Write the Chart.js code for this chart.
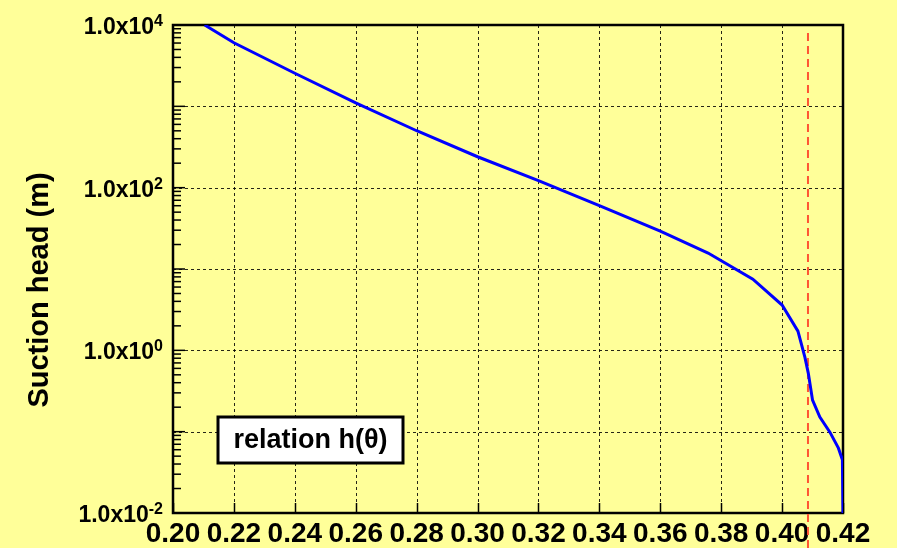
<!DOCTYPE html>
<html lang="en">
<head>
<meta charset="UTF-8">
<title>Suction head</title>
<script src="https://cdn.jsdelivr.net/npm/chart.js"></script>
<style>
  html, body { margin: 0; padding: 0; background: #FFFF99; }
  canvas { display: block; }
</style>
</head>
<body>
<canvas id="myChart" width="897" height="548"></canvas>
<script>
// water content theta vs suction head h
const thetaVals = [0.2104, 0.22, 0.24, 0.26, 0.28, 0.30, 0.32, 0.34, 0.36, 0.3757, 0.3904, 0.4000,
                   0.4052, 0.4075, 0.4086, 0.4100, 0.4124, 0.4157, 0.4185, 0.4198, 0.4200];
const headVals = [10000, 6050, 2550, 1100, 501, 240, 122, 60, 29.2, 15.7, 7.5, 3.6,
                  1.72, 0.82, 0.525, 0.244, 0.151, 0.0986, 0.0627, 0.045, 0.01];

// red dashed vertical line
const dashTheta = [0.4085, 0.4085];
const dashHead = [7950, 0.0037];

// ticks
const xTicks = [0.20, 0.22, 0.24, 0.26, 0.28, 0.30, 0.32, 0.34, 0.36, 0.38, 0.40, 0.42];
const yDecades = [0.01, 0.1, 1, 10, 100, 1000, 10000];
const yLabelExp = ['-2', '0', '2', '4'];
const yLabelVals = [0.01, 1, 100, 10000];

const FONT = '"Liberation Sans", Arial, sans-serif';
const NARROW = '"Liberation Sans Narrow", "Arial Narrow", "Liberation Sans", sans-serif';

// frame, grid, inward ticks, y labels, axis title, label box
const decorPlugin = {
    id: 'decor',
    beforeDatasetsDraw(chart) {
        const ctx = chart.ctx;
        const a = chart.chartArea;
        const xs = chart.scales.x, ys = chart.scales.y;
        ctx.save();
        // dashed grid
        ctx.strokeStyle = 'rgba(0,0,0,0.85)';
        ctx.lineWidth = 1;
        ctx.setLineDash([3, 3]);
        xTicks.forEach(v => {
            const px = Math.round(xs.getPixelForValue(v)) + 0.5;
            ctx.beginPath(); ctx.moveTo(px, a.top); ctx.lineTo(px, a.bottom); ctx.stroke();
        });
        yDecades.forEach(v => {
            const py = Math.round(ys.getPixelForValue(v)) + 0.5;
            ctx.beginPath(); ctx.moveTo(a.left, py); ctx.lineTo(a.right, py); ctx.stroke();
        });
        ctx.setLineDash([]);
        ctx.strokeStyle = '#000';
        // x ticks inward
        ctx.lineWidth = 1.5;
        xTicks.forEach(v => {
            const px = Math.round(xs.getPixelForValue(v)) + 0.5;
            ctx.beginPath(); ctx.moveTo(px, a.bottom); ctx.lineTo(px, a.bottom - 10); ctx.stroke();
        });
        // y minor/major ticks inward
        for (let e = -2; e < 4; e++) {
            for (let m = 1; m < 10; m++) {
                const py = ys.getPixelForValue(m * Math.pow(10, e));
                ctx.beginPath(); ctx.moveTo(a.left, py); ctx.lineTo(a.left + (m === 1 ? 12 : 8), py); ctx.stroke();
            }
        }
        // frame
        ctx.lineWidth = 2.5;
        ctx.strokeRect(a.left, a.top, a.right - a.left, a.bottom - a.top);

        // y labels 1.0x10^n
        ctx.fillStyle = '#000';
        ctx.textBaseline = 'alphabetic';
        yLabelVals.forEach((v, i) => {
            const py = ys.getPixelForValue(v);
            const right = a.left - 10;
            ctx.font = 'bold 16px ' + FONT;
            const ew = ctx.measureText(yLabelExp[i]).width;
            ctx.textAlign = 'left';
            ctx.fillText(yLabelExp[i], right - ew, py + 1);
            ctx.font = 'bold 23px ' + FONT;
            ctx.textAlign = 'right';
            ctx.fillText('1.0x10', right - ew, py + 9);
        });

        // y axis title
        ctx.save();
        ctx.translate(40, 290);
        ctx.rotate(-Math.PI / 2);
        ctx.font = 'bold 29px ' + FONT;
        ctx.textAlign = 'center';
        ctx.textBaseline = 'middle';
        ctx.fillText('Suction head (m)', 0, 0);
        ctx.restore();

        // label box
        const bx = a.left + 45, by = a.top + 392, bw = 185, bh = 46;
        ctx.fillStyle = '#fff';
        ctx.fillRect(bx, by, bw, bh);
        ctx.lineWidth = 3;
        ctx.strokeRect(bx, by, bw, bh);
        ctx.fillStyle = '#000';
        ctx.font = 'bold 27px ' + FONT;
        ctx.textAlign = 'center';
        ctx.textBaseline = 'middle';
        ctx.fillText('relation h(\u03B8)', bx + bw / 2, by + bh / 2 + 1);
        ctx.restore();
    }
};

const curve = thetaVals.map((t, i) => ({ x: t, y: headVals[i] }));
const dashLine = dashTheta.map((t, i) => ({ x: t, y: dashHead[i] }));

new Chart(document.getElementById('myChart'), {
    type: 'scatter',
    data: {
        datasets: [{
            label: 'h(theta)',
            data: curve,
            showLine: true,
            borderColor: '#0000FF',
            borderWidth: 3,
            pointRadius: 0,
            tension: 0,
            order: 1
        }, {
            label: 'limit',
            data: dashLine,
            showLine: true,
            borderColor: '#FF5533',
            borderWidth: 2,
            borderDash: [8, 5],
            pointRadius: 0,
            clip: false,
            order: 2
        }]
    },
    options: {
        responsive: false,
        animation: false,
        devicePixelRatio: 1,
        layout: { padding: { top: 25, right: 54, left: 0, bottom: 0 } },
        plugins: {
            legend: { display: false },
            tooltip: { enabled: false }
        },
        scales: {
            x: {
                type: 'linear',
                min: 0.20,
                max: 0.42,
                afterBuildTicks: s => { s.ticks = xTicks.map(v => ({ value: v })); },
                afterFit: s => { s.height = 35; },
                grid: { display: false, drawTicks: false },
                border: { display: false },
                ticks: {
                    padding: 4,
                    color: '#000',
                    font: { family: NARROW, size: 28, weight: 'bold' },
                    maxRotation: 0,
                    autoSkip: false,
                    callback: v => v.toFixed(2)
                }
            },
            y: {
                type: 'logarithmic',
                min: 0.01,
                max: 10000,
                afterBuildTicks: s => { s.ticks = yDecades.map(v => ({ value: v })); },
                afterFit: s => { s.width = 173; },
                grid: { display: false, drawTicks: false },
                border: { display: false },
                ticks: { display: false }
            }
        }
    },
    plugins: [decorPlugin]
});
</script>
</body>
</html>
